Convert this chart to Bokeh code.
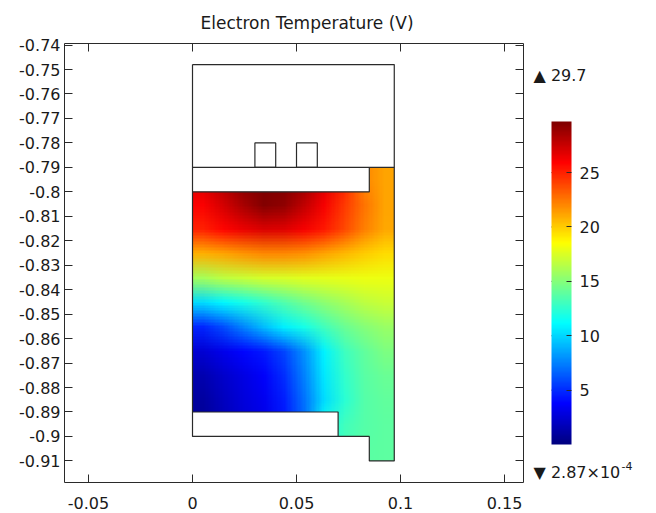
import base64
import struct
import zlib

import numpy as np
from bokeh.plotting import figure
from bokeh.layouts import row
from bokeh.models import (Range1d, LinearAxis, FixedTicker, LinearColorMapper,
                          ColorBar, Label)
from bokeh.embed import file_html
from bokeh.resources import INLINE

# ---------------- data ----------------
TITLE = "Electron Temperature (V)"

x_ticks = [-0.05, 0.0, 0.05, 0.1, 0.15]
x_tick_labels = ["-0.05", "0", "0.05", "0.1", "0.15"]

y_ticks = [-0.91, -0.9, -0.89, -0.88, -0.87, -0.86, -0.85, -0.84, -0.83,
           -0.82, -0.81, -0.8, -0.79, -0.78, -0.77, -0.76, -0.75, -0.74]
y_tick_labels = ["-0.91", "-0.9", "-0.89", "-0.88", "-0.87", "-0.86", "-0.85",
                 "-0.84", "-0.83", "-0.82", "-0.81", "-0.8", "-0.79", "-0.78",
                 "-0.77", "-0.76", "-0.75", "-0.74"]

cbar_ticks = [5, 10, 15, 20, 25]
T_MIN = 2.87e-4
T_MAX = 29.7
max_label = "\u25B2 29.7"
min_label = "\u25BC 2.87\u00D710"
min_label_exp = "-4"

# temperature field samples (V), rows from top (y=-0.795) to bottom (y=-0.905),
# 10 columns across x = 0 .. 0.097
field_x0, field_x1 = 0.0, 0.097
field_y0, field_y1 = -0.91, -0.79
temp_rows = [
    [27.0, 28.3, 29.5, 29.7, 29.7, 29.0, 27.0, 25.0, 22.0, 21.2],  # -0.795
    [26.0, 27.2, 28.5, 29.5, 29.2, 27.8, 26.2, 24.3, 22.6, 21.2],  # -0.805
    [25.0, 25.8, 26.5, 27.0, 26.8, 26.2, 25.2, 23.8, 22.2, 21.0],  # -0.815
    [20.8, 21.2, 21.6, 22.0, 22.0, 21.7, 21.2, 20.6, 20.0, 19.5],  # -0.825
    [16.0, 16.6, 17.0, 17.3, 17.5, 17.7, 17.8, 17.9, 18.0, 18.0],  # -0.835
    [10.2, 11.0, 11.8, 12.6, 13.5, 14.5, 15.3, 16.0, 16.6, 17.0],  # -0.845
    [4.8, 6.0, 7.6, 9.2, 10.7, 11.8, 13.0, 14.2, 15.0, 15.6],      # -0.855
    [2.5, 3.2, 3.9, 4.5, 5.8, 8.0, 10.8, 12.9, 14.0, 14.8],        # -0.865
    [1.5, 2.3, 3.0, 3.6, 5.0, 7.5, 10.5, 12.6, 13.8, 14.2],        # -0.875
    [1.0, 1.9, 2.7, 3.3, 4.6, 7.0, 10.2, 12.4, 13.6, 14.0],        # -0.885
    [0.8, 1.7, 2.5, 3.1, 4.4, 6.8, 11.5, 13.0, 13.6, 13.9],        # -0.895
    [0.8, 1.7, 2.5, 3.1, 4.4, 6.8, 11.5, 13.2, 13.7, 13.9],        # -0.905
]

# geometry (m)
outer_x = [0.0, 0.097, 0.097, 0.085, 0.085, 0.0, 0.0]
outer_y = [-0.748, -0.748, -0.91, -0.91, -0.90, -0.90, -0.748]
inner_lines_x = [[0.0, 0.097], [0.0, 0.085, 0.085], [0.0, 0.07, 0.07]]
inner_lines_y = [[-0.79, -0.79], [-0.80, -0.80, -0.79], [-0.89, -0.89, -0.90]]
electrode_left = [0.03, 0.05]
electrode_right = [0.04, 0.06]
electrode_bottom = [-0.79, -0.79]
electrode_top = [-0.78, -0.78]
blank_left = [0.0, 0.0, -0.002]
blank_right = [0.085, 0.07, 0.085]
blank_bottom = [-0.80, -0.90, -0.912]
blank_top = [-0.79, -0.89, -0.90]

# ---------------- style ----------------
FONT = "DejaVu Sans"
TXT = "#1a1a1a"
LINE = "#2a2a2a"


def jet(n=256):
    t = np.linspace(0, 1, n)
    r = np.clip(1.5 - np.abs(4 * t - 3), 0, 1)
    g = np.clip(1.5 - np.abs(4 * t - 2), 0, 1)
    b = np.clip(1.5 - np.abs(4 * t - 1), 0, 1)
    return [(int(rr * 255), int(gg * 255), int(bb * 255)) for rr, gg, bb in zip(r, g, b)]


JET = jet()
PALETTE = ["#%02x%02x%02x" % c for c in JET]
mapper = LinearColorMapper(palette=PALETTE, low=T_MIN, high=T_MAX)


def field_png(rows):
    """Colour the sampled field with the same palette and encode it as a PNG
    (one pixel per sample) so the browser renders it smoothly."""
    h, w = len(rows), len(rows[0])
    raw = b""
    for r in rows:
        line = b"\x00"
        for v in r:
            k = int((v - T_MIN) / (T_MAX - T_MIN) * len(JET))
            k = min(max(k, 0), len(JET) - 1)
            line += bytes(JET[k])
        raw += line

    def chunk(tag, data):
        return (struct.pack(">I", len(data)) + tag + data +
                struct.pack(">I", zlib.crc32(tag + data) & 0xFFFFFFFF))

    png = (b"\x89PNG\r\n\x1a\n" +
           chunk(b"IHDR", struct.pack(">IIBBBBB", w, h, 8, 2, 0, 0, 0)) +
           chunk(b"IDAT", zlib.compress(raw)) + chunk(b"IEND", b""))
    return "data:image/png;base64," + base64.b64encode(png).decode()


# ---------------- layout constants (pixels) ----------------
H = 512
F_TOP, F_BOT = 43, 482               # frame top / bottom rows
BORDER_TOP, BORDER_BOT = F_TOP, H - F_BOT

# ---------------- main plot ----------------
p = figure(width=525, height=H,
           x_range=Range1d(-0.06154, 0.15913), y_range=Range1d(-0.91883, -0.73937),
           output_backend="svg", toolbar_location=None,
           min_border_left=64, min_border_right=2,
           min_border_top=BORDER_TOP, min_border_bottom=BORDER_BOT,
           x_axis_location=None, y_axis_location=None)
p.grid.visible = False
p.outline_line_color = None
p.background_fill_color = "white"
p.border_fill_color = "white"

p.title.text = TITLE
p.title.align = "left"
p.title.offset = 136
p.title.text_font = FONT
p.title.text_font_size = "17px"
p.title.text_font_style = "normal"
p.title.text_color = TXT
p.title.standoff = 21


def make_axis(ticks, labels, show_labels, standoff):
    ax = LinearAxis(ticker=FixedTicker(ticks=ticks))
    ax.axis_line_color = LINE
    ax.major_tick_line_color = LINE
    ax.major_tick_in = 8
    ax.major_tick_out = 0
    ax.minor_tick_line_color = None
    ax.major_label_text_font = FONT
    ax.major_label_standoff = standoff
    if show_labels:
        ax.major_label_overrides = {t: l for t, l in zip(ticks, labels)}
        ax.major_label_text_color = TXT
        ax.major_label_text_font_size = "16px"
    else:
        ax.major_label_overrides = {t: "" for t in ticks}
        ax.major_label_text_color = None
        ax.major_label_text_font_size = "0px"
    return ax


p.add_layout(make_axis(x_ticks, x_tick_labels, True, 14), "below")
p.add_layout(make_axis(y_ticks, y_tick_labels, True, 4), "left")
p.add_layout(make_axis(x_ticks, x_tick_labels, False, 0), "above")
p.add_layout(make_axis(y_ticks, y_tick_labels, False, 0), "right")

p.image_url(url=[field_png(temp_rows)], x=field_x0, y=field_y1,
            w=field_x1 - field_x0, h=field_y1 - field_y0, anchor="top_left")

p.quad(left=blank_left, right=blank_right, bottom=blank_bottom, top=blank_top,
       fill_color="white", line_color=None)
p.quad(left=electrode_left, right=electrode_right, bottom=electrode_bottom,
       top=electrode_top, fill_color=None, line_color=LINE, line_width=1.2)
p.line(outer_x, outer_y, line_color=LINE, line_width=1.2)
p.multi_line(inner_lines_x, inner_lines_y, line_color=LINE, line_width=1.2)

# ---------------- colour legend panel ----------------
BAR_TOP, BAR_BOT = 121, 444          # pixel rows of the bar ends
px_per_T = (BAR_BOT - BAR_TOP) / (T_MAX - T_MIN)
q = figure(width=123, height=H,
           x_range=Range1d(525, 648),
           y_range=Range1d(T_MIN - (F_BOT - BAR_BOT) / px_per_T,
                           T_MIN + (BAR_BOT - F_TOP) / px_per_T),
           output_backend="svg", toolbar_location=None,
           min_border_left=0, min_border_right=0,
           min_border_top=BORDER_TOP, min_border_bottom=BORDER_BOT,
           x_axis_location=None, y_axis_location=None)
q.grid.visible = False
q.outline_line_color = None
q.background_fill_color = "white"
q.border_fill_color = "white"

cb = ColorBar(color_mapper=mapper, ticker=FixedTicker(ticks=cbar_ticks),
              location=(26, F_BOT - BAR_BOT), width=20, height=BAR_BOT - BAR_TOP,
              padding=0, background_fill_color=None, border_line_color=None,
              bar_line_color=None, label_standoff=8,
              major_label_text_font=FONT, major_label_text_font_size="16px",
              major_label_text_color=TXT, major_tick_line_color=LINE,
              major_tick_in=5, major_tick_out=0, minor_tick_line_color=None)
q.add_layout(cb, "center")
q.segment(x0=551, x1=555, y0=cbar_ticks, y1=cbar_ticks, line_color=LINE, line_width=1)

for txt, x, y, size in [(max_label, 8, F_BOT - 74.7, "16px"),
                        (min_label, 8, F_BOT - 472.0, "16px"),
                        (min_label_exp, 96, F_BOT - 465.0, "11px")]:
    q.add_layout(Label(x=x, y=y, x_units="screen", y_units="screen", text=txt,
                       text_font=FONT, text_font_size=size, text_color=TXT,
                       text_baseline="middle", text_align="left"))

layout = row(p, q, spacing=0)
open("out.html", "w").write(file_html(layout, INLINE))
